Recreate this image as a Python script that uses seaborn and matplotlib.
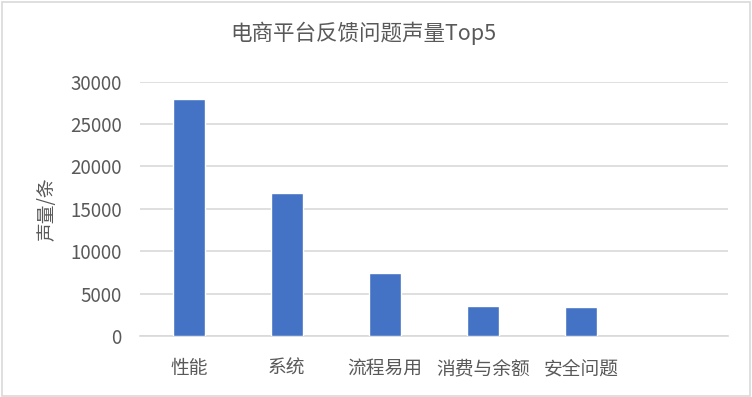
import pandas as pd
import seaborn as sns
import matplotlib.pyplot as plt
from matplotlib.patches import Rectangle

categories = ['性能', '系统', '流程易用', '消费与余额', '安全问题']
volumes = [28000, 16900, 7400, 3500, 3350]
y_ticks = [0, 5000, 10000, 15000, 20000, 25000, 30000]

df = pd.DataFrame({'category': categories, 'volume': volumes})

sns.set_style('white')
plt.rcParams['font.family'] = ['Noto Sans CJK SC', 'DejaVu Sans']
text_color = '#595959'

fig = plt.figure(figsize=(7.52, 3.97), dpi=100)
ax = fig.add_axes([0.186, 0.154, 0.782, 0.640])

sns.barplot(data=df, x='category', y='volume', color='#4472C4', width=0.32,
            saturation=1, ax=ax, zorder=3)

ax.set_xlim(-0.5, 5.5)
ax.set_ylim(0, 30000)
ax.set_yticks(y_ticks)
ax.set_yticklabels([str(t) for t in y_ticks], fontsize=13.5, color=text_color)
ax.set_xticks(range(len(categories)))
ax.set_xticklabels(categories, fontsize=13.5, color=text_color)
ax.tick_params(axis='y', length=0, pad=13)
ax.tick_params(axis='x', length=0, pad=16)
ax.yaxis.grid(True, color='#d9d9d9', linewidth=1.2, zorder=0)
ax.set_axisbelow(True)
for s in ['top', 'right', 'left']:
    ax.spines[s].set_visible(False)
ax.spines['bottom'].set_color('#d9d9d9')
ax.spines['bottom'].set_linewidth(1.2)

ax.set_xlabel('')
ax.set_ylabel('声量/条', fontsize=13.5, color=text_color, labelpad=9)
fig.suptitle('电商平台反馈问题声量Top5', x=0.483, y=0.945, fontsize=15.5, color=text_color)

fig.patches.append(Rectangle((0.002, 0.003), 0.995, 0.993, transform=fig.transFigure,
                             fill=False, edgecolor='#d9d9d9', linewidth=1.2))

fig.savefig('out.png', dpi=100)
